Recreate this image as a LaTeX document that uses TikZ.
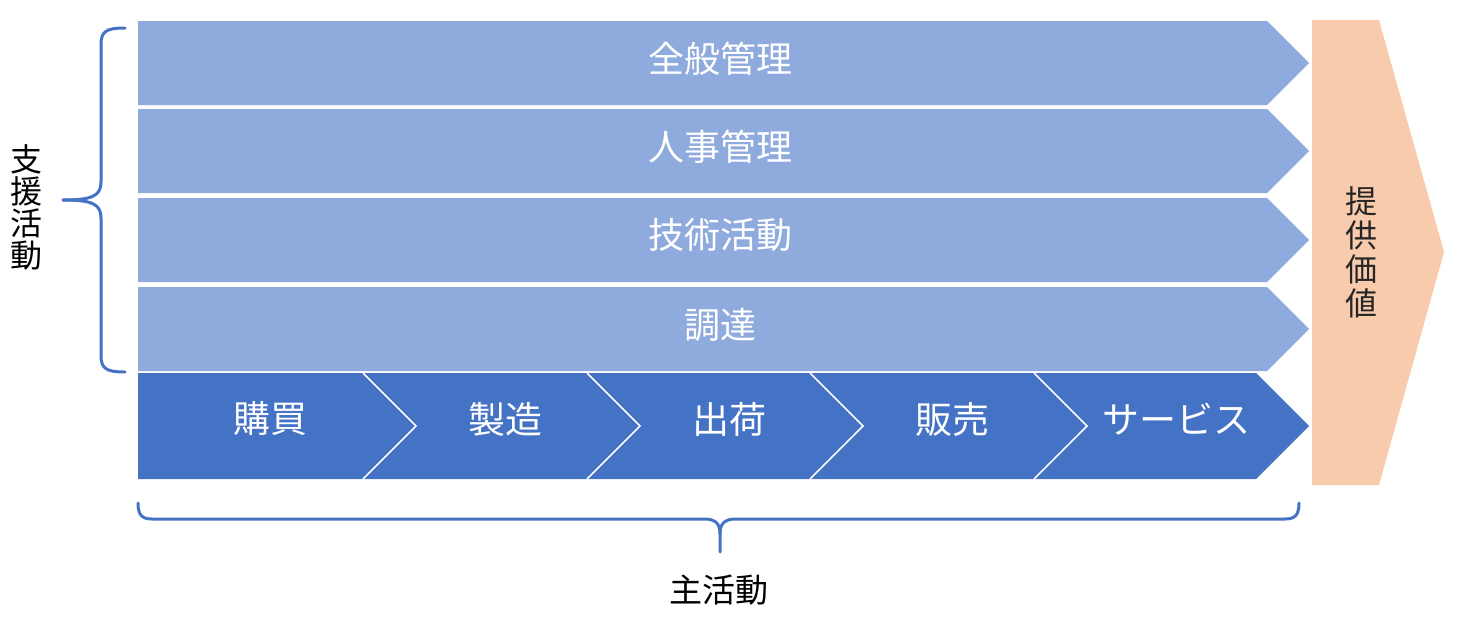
\documentclass[tikz,border=0pt]{standalone}
\usepackage{fontspec}
\setmainfont{Noto Sans CJK JP}
\definecolor{lightbar}{HTML}{8FAADC}
\definecolor{darkbar}{HTML}{4472C4}
\definecolor{valuefill}{HTML}{F8CBAD}
\definecolor{bracecol}{HTML}{4472C4}
\definecolor{darktext}{HTML}{262626}
\begin{document}
\begin{tikzpicture}[x=1pt,y=-1pt,
  bartext/.style={text=white,font=\fontsize{36}{40}\selectfont,inner sep=0pt},
  rowtext/.style={text=white,font=\fontsize{37}{40}\selectfont,inner sep=0pt},
  vtext/.style={align=center,inner sep=0pt},
  bracestyle/.style={draw=bracecol,line width=3pt,line cap=round,line join=round}]
\useasboundingbox (0,0) rectangle (1469,621);
% support activity bars
\foreach \t/\b in {21/105,109/193,198/282,287/371}{
  \fill[lightbar] (138,\t) -- (1267,\t) -- (1309,{(\t+\b)/2}) -- (1267,\b) -- (138,\b) -- cycle;
}
\node[bartext] (gm) at (720,59) {全般管理};
\node[bartext] (hr) at (720,147) {人事管理};
\node[bartext] (tech) at (720,235) {技術活動};
\node[bartext] (proc) at (720,325) {調達};
% primary activity row
\fill[darkbar] (138,373) -- (1256,373) -- (1309,426) -- (1256,479) -- (138,479) -- cycle;
\foreach \s in {363,587,810,1034}{
  \draw[white,line width=1.6pt] (\s,373) -- (\s+53,426) -- (\s,479);
}
\node[rowtext] (buy) at (270,419) {購買};
\node[rowtext] (make) at (505,419) {製造};
\node[rowtext] (ship) at (729,419) {出荷};
\node[rowtext] (sell) at (952,419) {販売};
\node[rowtext] (serv) at (1176,419) {サービス};
% value arrow
\fill[valuefill] (1312,20) -- (1379,20) -- (1444,252) -- (1379,485) -- (1312,485) -- cycle;
\node[vtext,text=darktext,font=\fontsize{32}{34}\selectfont] (value) at (1361,252) {提\\供\\価\\値};
% left brace
\coordinate (lbtop) at (125,28);
\coordinate (lbbot) at (125,372);
\coordinate (lbtip) at (63,200);
\draw[bracestyle] (lbtop) .. controls (105,28) and (101,32) .. (101,45) -- (101,182) .. controls (101,196) and (92,200) .. (lbtip);
\draw[bracestyle] (lbtip) .. controls (92,200) and (101,204) .. (101,218) -- (101,355) .. controls (101,368) and (105,372) .. (lbbot);
\node[vtext,text=black,font=\fontsize{32}{32}\selectfont] (support) at (26,207) {支\\援\\活\\動};
% bottom brace
\coordinate (bbl) at (138,503);
\coordinate (bbr) at (1299,503);
\coordinate (bbtip) at (720,552);
\draw[bracestyle] (bbl) .. controls (138,515) and (142,519) .. (152,519) -- (704,519) .. controls (716,519) and (720,524) .. (720,534) -- (bbtip);
\draw[bracestyle] (720,534) .. controls (720,524) and (724,519) .. (736,519) -- (1285,519) .. controls (1295,519) and (1299,515) .. (bbr);
\node[text=black,font=\fontsize{33}{36}\selectfont,inner sep=0pt] (primary) at (719,590) {主活動};
\end{tikzpicture}
\end{document}
